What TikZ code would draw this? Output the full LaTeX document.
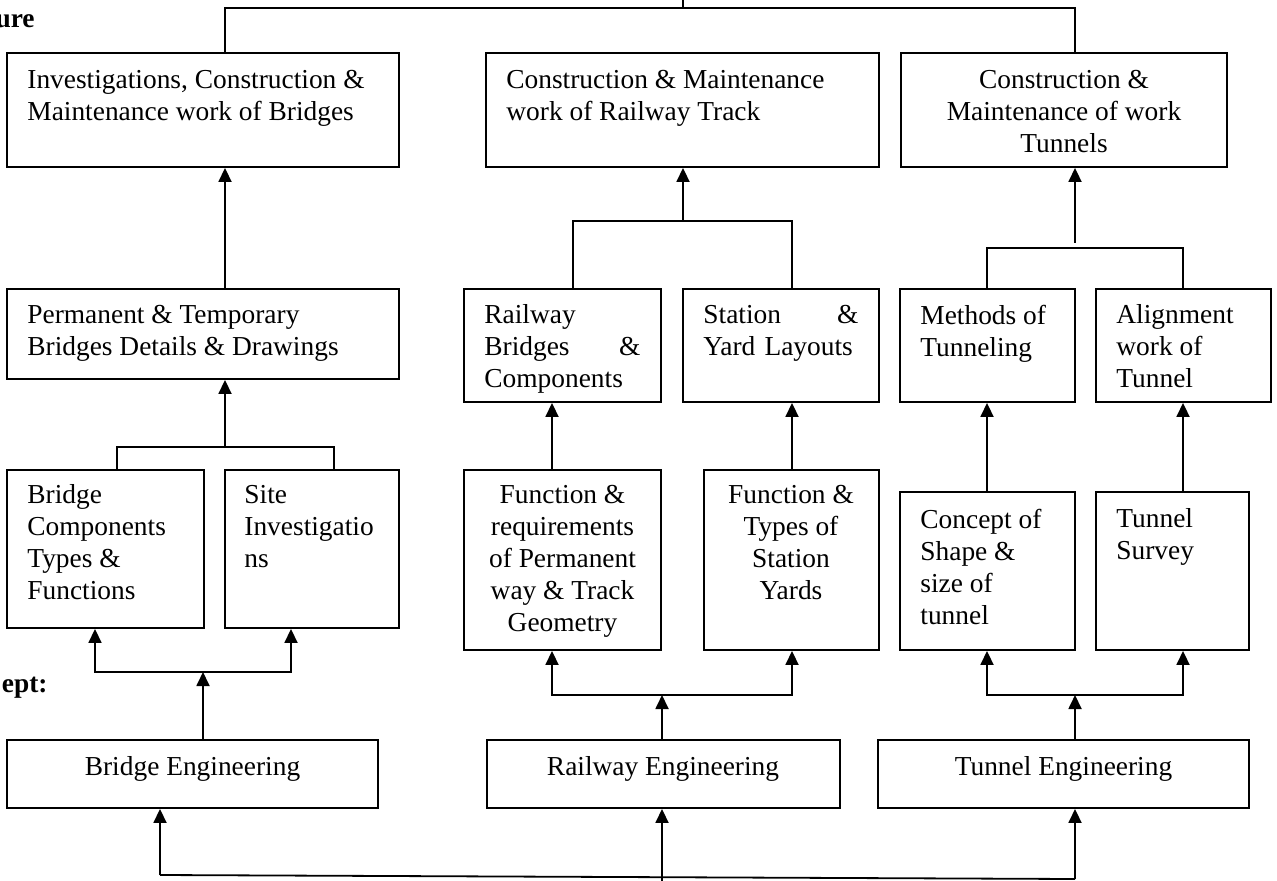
\documentclass[tikz,border=0pt]{standalone}
\usepackage{fontspec}
\setmainfont{Liberation Serif}
\usetikzlibrary{arrows.meta,fit,calc}
\begin{document}
\begin{tikzpicture}[x=0.5pt,y=-0.5pt,
  box/.style={draw, line width=0.95pt, inner sep=0pt},
  txt/.style={inner sep=0pt, font=\fontsize{13.7}{16}\selectfont, align=left, anchor=north west},
  ctxt/.style={inner sep=0pt, font=\fontsize{13.7}{16}\selectfont, align=center, anchor=north},
  lbl/.style={inner sep=0pt, font=\fontsize{13.7}{16}\selectfont\bfseries, anchor=base east},
  con/.style={line width=0.9pt},
  arr/.style={con, -{Triangle[length=7pt,width=6.5pt]}}]
\useasboundingbox (0,0) rectangle (1277,881);
% boxes
\node[box, fit={(7,53)(399,167)}] (b1) {};
\node[box, fit={(486,53)(879,167)}] (r1) {};
\node[box, fit={(901,53)(1227,167)}] (t1) {};
\node[box, fit={(7,289)(399,379)}] (b2) {};
\node[box, fit={(464,289)(661,402)}] (rb) {};
\node[box, fit={(683,289)(879,402)}] (sy) {};
\node[box, fit={(900,289)(1075,402)}] (mt) {};
\node[box, fit={(1096,289)(1271,402)}] (al) {};
\node[box, fit={(7,470)(204,628)}] (bc) {};
\node[box, fit={(225,470)(399,628)}] (si) {};
\node[box, fit={(464,470)(661,650)}] (fr) {};
\node[box, fit={(704,470)(879,650)}] (ft) {};
\node[box, fit={(900,492)(1075,650)}] (cs) {};
\node[box, fit={(1096,492)(1249,650)}] (ts) {};
\node[box, fit={(7,740)(378,808)}] (be) {};
\node[box, fit={(487,740)(840,808)}] (re) {};
\node[box, fit={(878,740)(1249,808)}] (te) {};
% texts
\node[txt] (tb1) at (27,69.5) {Investigations, Construction \&\\Maintenance work of Bridges};
\node[txt] (tr1) at (506,69.5) {Construction \& Maintenance\\work of Railway Track};
\node[ctxt] (tt1) at (1064,69.5) {Construction \&\\Maintenance of work\\Tunnels};
\node[txt] (tb2) at (27,304.5) {Permanent \& Temporary\\Bridges Details \& Drawings};
\node[txt, text width=78pt] (trb) at (484,304.5) {Railway\\Bridges\hfill\&\\Components\hfill\mbox{}};
\node[txt, text width=77.5pt] (tsy) at (703,304.5) {Station\hfill\&\\Yard Layouts\hfill\mbox{}};
\node[txt] (tmt) at (920,304.5) {Methods of\\Tunneling};
\node[txt] (tal) at (1116,304.5) {Alignment\\work of\\Tunnel};
\node[txt] (tbc) at (27,484.5) {Bridge\\Components\\Types \&\\Functions};
\node[txt] (tsi) at (244,484.5) {Site\\Investigatio\\ns};
\node[ctxt] (tfr) at (562.5,484.5) {Function \&\\requirements\\of Permanent\\way \& Track\\Geometry};
\node[ctxt] (tft) at (791,484.5) {Function \&\\Types of\\Station\\Yards};
\node[txt] (tcs) at (920,508.5) {Concept of\\Shape \&\\size of\\tunnel};
\node[txt] (tts) at (1116,508.5) {Tunnel\\Survey};
\node[ctxt, anchor=base] (tbe) at (192.5,775) {Bridge Engineering};
\node[ctxt, anchor=base] (tre) at (663,775) {Railway Engineering};
\node[ctxt, anchor=base] (tte) at (1063.5,775) {Tunnel Engineering};
\node[lbl] (l1) at (35,28) {ure};
\node[lbl] (l2) at (48,692) {ept:};
% x positions
\coordinate (xB) at (225,0);
\coordinate (xR) at (683,0);
\coordinate (xT) at (1075,0);
\coordinate (xbc) at (117,0);
\coordinate (xsi) at (334,0);
\coordinate (xbc2) at (95,0);
\coordinate (xsi2) at (291,0);
\coordinate (xrb) at (573,0);
\coordinate (xsy) at (792,0);
\coordinate (xfr) at (552,0);
\coordinate (xmt) at (987,0);
\coordinate (xal) at (1183,0);
% top
\coordinate (topj) at (683,8);
\coordinate (topend) at (683,-4);
\draw[con] (topend) -- (topj);
\draw[con] (b1.north -| xB) |- (topj) -| (t1.north -| xT);
% bridge column
\draw[arr] (b2.north -| xB) -- (b1.south -| xB);
\coordinate (jb2) at (225,447);
\draw[arr] (jb2) -- (b2.south -| xB);
\draw[con] (bc.north -| xbc) |- (jb2) -| (si.north -| xsi);
\coordinate (jb3) at (203,672);
\draw[arr] (be.north -| jb3) -- (jb3);
\draw[arr] (jb3) -| (bc.south -| xbc2);
\draw[arr] (jb3) -| (si.south -| xsi2);
% railway column
\coordinate (jr2) at (683,221);
\draw[arr] (jr2) -- (r1.south -| xR);
\draw[con] (rb.north -| xrb) |- (jr2) -| (sy.north -| xsy);
\draw[arr] (fr.north -| xfr) -- (rb.south -| xfr);
\draw[arr] (ft.north -| xsy) -- (sy.south -| xsy);
\coordinate (jr3) at (662,695);
\draw[arr] (re.north -| jr3) -- (jr3);
\draw[arr] (jr3) -| (fr.south -| xfr);
\draw[arr] (jr3) -| (ft.south -| xsy);
% tunnel column
\coordinate (jt2) at (1075,243);
\draw[arr] (jt2) -- (t1.south -| xT);
\coordinate (jt2b) at (1075,248);
\draw[con] (mt.north -| xmt) |- (jt2b) -| (al.north -| xal);
\draw[arr] (cs.north -| xmt) -- (mt.south -| xmt);
\draw[arr] (ts.north -| xal) -- (al.south -| xal);
\coordinate (jt3) at (1075,695);
\draw[arr] (te.north -| jt3) -- (jt3);
\draw[arr] (jt3) -| (cs.south -| xmt);
\draw[arr] (jt3) -| (ts.south -| xal);
% bottom line
\coordinate (bl) at (160,875);
\coordinate (br) at (1075,879);
\coordinate (bm) at (662,881);
\draw[con] (bl) -- (br);
\draw[arr] (bl) -- (be.south -| bl);
\draw[arr] (bm) -- (re.south -| bm);
\draw[arr] (br) -- (te.south -| br);
\end{tikzpicture}
\end{document}
